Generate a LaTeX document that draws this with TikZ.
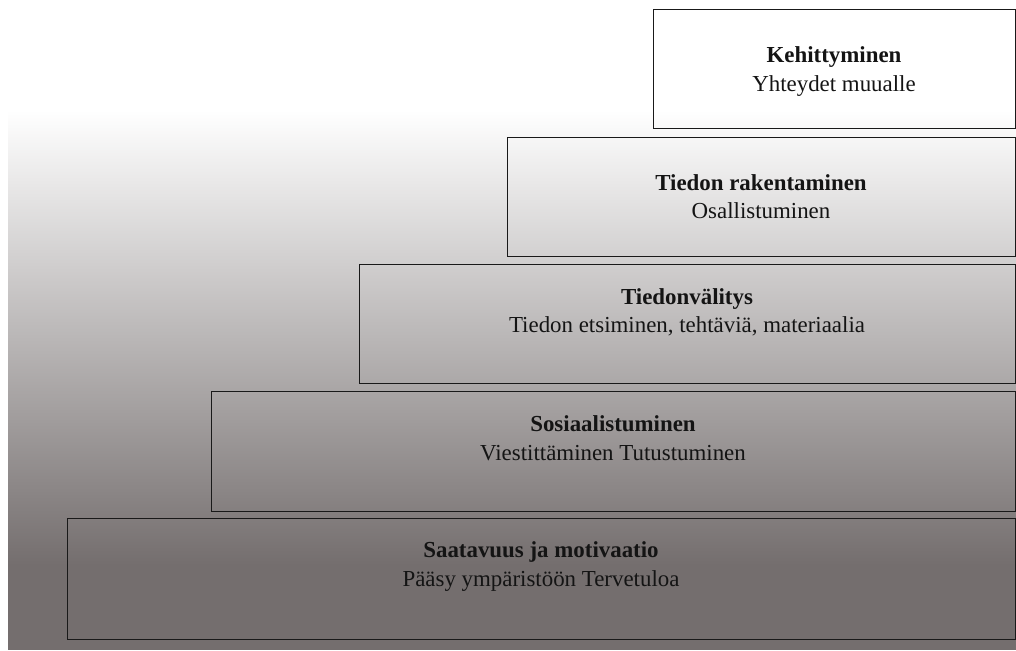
\documentclass[tikz,border=0pt]{standalone}
\usepackage{fontspec}
\setmainfont{Liberation Serif}
\definecolor{bgdark}{RGB}{116,110,110}
\begin{document}
\begin{tikzpicture}[x=1pt,y=-1pt,
  stepbox/.style={draw=black!90, line width=1.1pt, fill=none, inner sep=0pt, anchor=north west},
  titletext/.style={anchor=base, inner sep=0pt, font=\fontsize{22.9}{27}\selectfont\bfseries, text=black!92},
  subtext/.style={anchor=base, inner sep=0pt, font=\fontsize{22.9}{27}\selectfont, text=black!92}]
\useasboundingbox (0,0) rectangle (1016,650);
\fill[white] (0,0) rectangle (1016,650);
\shade[top color=white, bottom color=bgdark] (8,110) rectangle (1016,565);
\fill[bgdark] (8,564.5) rectangle (1016,650);
% boxes
\fill[white] (653,9) rectangle (1014.5,110);
\node[stepbox, minimum width=361.5pt, minimum height=119pt] (b1) at (653,9) {};
\node[stepbox, minimum width=507.5pt, minimum height=119.5pt] (b2) at (507,136.5) {};
\node[stepbox, minimum width=655.5pt, minimum height=119pt] (b3) at (359,264) {};
\node[stepbox, minimum width=803.5pt, minimum height=119.5pt] (b4) at (211,391) {};
\node[stepbox, minimum width=947.5pt, minimum height=120.5pt] (b5) at (67,518) {};
% texts
\node[titletext] (t1a) at (834,63) {Kehittyminen};
\node[subtext]   (t1b) at (834,92) {Yhteydet muualle};
\node[titletext] (t2a) at (761,190.5) {Tiedon rakentaminen};
\node[subtext]   (t2b) at (761,218.5) {Osallistuminen};
\node[titletext] (t3a) at (687,304) {Tiedonvälitys};
\node[subtext]   (t3b) at (687,332.5) {Tiedon etsiminen, tehtäviä, materiaalia};
\node[titletext] (t4a) at (613,431.5) {Sosiaalistuminen};
\node[subtext]   (t4b) at (613,460) {Viestittäminen Tutustuminen};
\node[titletext] (t5a) at (541,557) {Saatavuus ja motivaatio};
\node[subtext]   (t5b) at (541,586) {Pääsy ympäristöön Tervetuloa};
\end{tikzpicture}
\end{document}
